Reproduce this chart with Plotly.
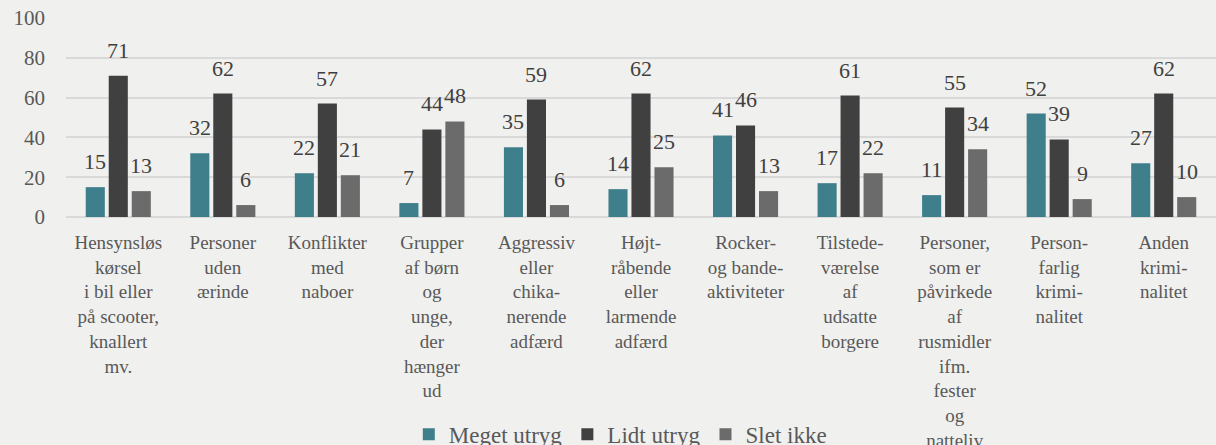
import plotly.graph_objects as go

categories = [
    "Hensynsløs<br>kørsel<br>i bil eller<br>på scooter,<br>knallert<br>mv.",
    "Personer<br>uden<br>ærinde",
    "Konflikter<br>med<br>naboer",
    "Grupper<br>af børn<br>og<br>unge,<br>der<br>hænger<br>ud",
    "Aggressiv<br>eller<br>chika-<br>nerende<br>adfærd",
    "Højt-<br>råbende<br>eller<br>larmende<br>adfærd",
    "Rocker-<br>og bande-<br>aktiviteter",
    "Tilstede-<br>værelse<br>af<br>udsatte<br>borgere",
    "Personer,<br>som er<br>påvirkede<br>af<br>rusmidler<br>ifm.<br>fester<br>og<br>natteliv",
    "Person-<br>farlig<br>krimi-<br>nalitet",
    "Anden<br>krimi-<br>nalitet",
]
meget_utryg = [15, 32, 22, 7, 35, 14, 41, 17, 11, 52, 27]
lidt_utryg = [71, 62, 57, 44, 59, 62, 46, 61, 55, 39, 62]
slet_ikke = [13, 6, 21, 48, 6, 25, 13, 22, 34, 9, 10]

series = [
    ("Meget utryg", meget_utryg, "#3f7f8b"),
    ("Lidt utryg", lidt_utryg, "#404040"),
    ("Slet ikke", slet_ikke, "#6b6b6b"),
]

FONT = "Liberation Serif, Times New Roman, serif"
BARGAP = 0.34
SLOT = (1 - BARGAP) / len(series)

fig = go.Figure()
for name, vals, color in series:
    fig.add_trace(go.Bar(
        name=name, x=categories, y=vals, marker_color=color,
        marker_line_width=0, cliponaxis=False,
    ))

# data labels above each bar, positioned through the axes
for k, (name, vals, color) in enumerate(series):
    for i, v in enumerate(vals):
        fig.add_annotation(
            x=i + (k - (len(series) - 1) / 2) * SLOT, y=v, xref="x", yref="y",
            text=str(v), showarrow=False, yanchor="bottom", yshift=11,
            font=dict(family=FONT, size=22, color="#404040"),
        )

fig.update_layout(
    width=1216, height=445,
    paper_bgcolor="#f0f0ee", plot_bgcolor="#f0f0ee",
    margin=dict(l=66, r=0, t=18, b=228, autoexpand=False),
    barmode="group", bargap=BARGAP, bargroupgap=0.17,
    font=dict(family=FONT, color="#595959"),
    showlegend=True,
    legend=dict(orientation="h", x=0.482, xanchor="center", y=0.024, yref="container",
                yanchor="middle",
                font=dict(family=FONT, size=23, color="#595959"),
                bgcolor="rgba(0,0,0,0)", itemwidth=30, traceorder="normal"),
)
fig.update_yaxes(range=[0, 100], dtick=20, showgrid=True, gridcolor="#d9d9d9", gridwidth=2,
                 zeroline=True, zerolinecolor="#d9d9d9", zerolinewidth=2,
                 tickfont=dict(family=FONT, size=21, color="#595959"),
                 ticklabelstandoff=20, showline=False, automargin=False)
fig.update_xaxes(tickfont=dict(family=FONT, size=19, color="#595959"), showline=False,
                 ticks="", tickangle=0, automargin=False, ticklabelstandoff=12)

fig.write_html("out.html", config={"displayModeBar": False},
               post_script="document.body.style.margin='0';document.body.style.overflow='hidden';")
